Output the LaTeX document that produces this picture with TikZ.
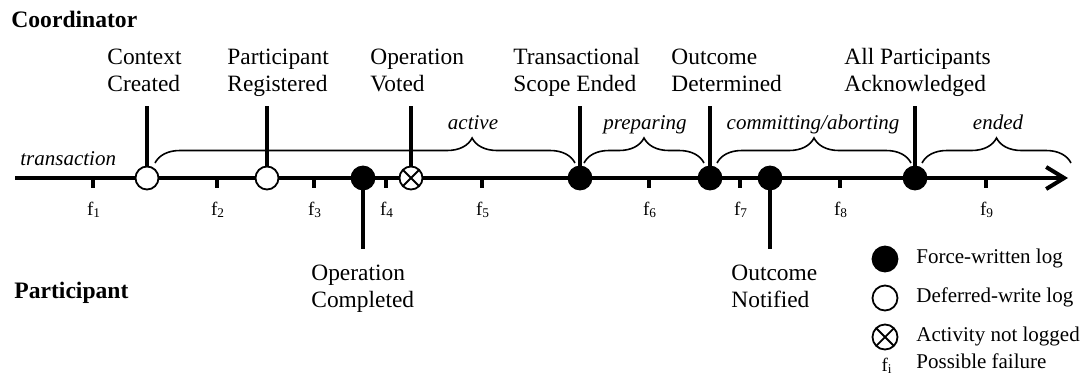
\documentclass[tikz,border=0pt]{standalone}
\usepackage{fontspec}
\setmainfont{Liberation Serif}
\usetikzlibrary{arrows.meta,decorations.pathreplacing}

\begin{document}
\begin{tikzpicture}[x=0.5pt,y=-0.5pt,
  % multi-line labels are anchored at the baseline of their last line
  lbl/.style={font=\fontsize{11.7}{13.4}\selectfont, align=left, anchor=base west, inner sep=0pt},
  role/.style={font=\fontsize{11.8}{14}\selectfont\bfseries, anchor=base west, inner sep=0pt},
  phase/.style={font=\fontsize{10.5}{12}\selectfont\itshape, anchor=base, inner sep=0pt},
  fail/.style={font=\fontsize{9.5}{11}\selectfont, anchor=base, inner sep=0pt},
  legtext/.style={font=\fontsize{10.5}{12}\selectfont, anchor=mid west, inner sep=0pt},
  evt/.style={circle, draw, line width=0.9pt, minimum size=11.5pt, inner sep=0pt},
  forced/.style={evt, fill=black},
  deferred/.style={evt, fill=white},
  unlogged/.style={evt, fill=white, path picture={
      \draw[line width=0.9pt]
        (path picture bounding box.north west) -- (path picture bounding box.south east)
        (path picture bounding box.north east) -- (path picture bounding box.south west);}},
  legsym/.style={minimum size=12.5pt},
  stem/.style={line width=1.65pt},
  timeline/.style={line width=2pt, -{Straight Barb[length=9pt,width=11pt]}},
  tickmark/.style={line width=1.7pt},
  phasebrace/.style={decorate, decoration={brace, amplitude=12.5pt, #1}, line width=0.8pt},
  phasebrace/.default={aspect=0.5},
]
\useasboundingbox (0,0) rectangle (1086,376);

% roles
\node[role] (coord) at (11,27) {Coordinator};
\node[role] (part) at (14,298) {Participant};

% time axis
\coordinate (ax0) at (15,178);
\coordinate (ax1) at (1068,178);
\draw[timeline] (ax0) -- (ax1);

% possible failure points
\foreach \i/\x in {1/93,2/217,3/314,4/386,5/482,6/649,7/740,8/840,9/986}{
  \coordinate (k\i) at (\x,178);
  \coordinate (kb\i) at (\x,188);
  \draw[tickmark] (k\i) -- (kb\i);
  \node[fail] (f\i) at (\x+1,215) {f\textsubscript{\i}};
}

% phase braces
\node[phase, anchor=base west] (ptx) at (20,165) {transaction};
\coordinate (b1a) at (155,163); \coordinate (b1b) at (575,163);
\coordinate (b2a) at (584,163); \coordinate (b2b) at (704,163);
\coordinate (b3a) at (717,163); \coordinate (b3b) at (911,163);
\coordinate (b4a) at (922,163); \coordinate (b4b) at (1071,163);
\draw[phasebrace={aspect=0.755}] (b1a) -- (b1b);
\draw[phasebrace] (b2a) -- (b2b);
\draw[phasebrace] (b3a) -- (b3b);
\draw[phasebrace] (b4a) -- (b4b);
\node[phase] (pact) at (473,129) {active};
\node[phase] (pprep) at (645,129) {preparing};
\node[phase] (pcomm) at (813,129) {committing/aborting};
\node[phase] (pend) at (998,129) {ended};

% stem ends
\coordinate (t1) at (147,106);
\coordinate (t2) at (267,106);
\coordinate (t3) at (363,249);
\coordinate (t4) at (411,106);
\coordinate (t5) at (580,106);
\coordinate (t6) at (710,106);
\coordinate (t7) at (770,249);
\coordinate (t8) at (915,106);

% event positions on the axis
\coordinate (p1) at (147,178);
\coordinate (p2) at (267,178);
\coordinate (p3) at (363,178);
\coordinate (p4) at (411,178);
\coordinate (p5) at (580,178);
\coordinate (p6) at (710,178);
\coordinate (p7) at (770,178);
\coordinate (p8) at (915,178);

\foreach \i in {1,...,8}{ \draw[stem] (p\i) -- (t\i); }

% events
\node[deferred] (e1) at (p1) {};
\node[deferred] (e2) at (p2) {};
\node[forced]   (e3) at (p3) {};
\node[unlogged] (e4) at (p4) {};
\node[forced]   (e5) at (p5) {};
\node[forced]   (e6) at (p6) {};
\node[forced]   (e7) at (p7) {};
\node[forced]   (e8) at (p8) {};

% event labels
\node[lbl] (l1) at (107,91) {Context\\Created};
\node[lbl] (l2) at (227,91) {Participant\\Registered};
\node[lbl] (l3) at (311,307) {Operation\\Completed};
\node[lbl] (l4) at (370,91) {Operation\\Voted};
\node[lbl] (l5) at (513,91) {Transactional\\Scope Ended};
\node[lbl] (l6) at (671,91) {Outcome\\Determined};
\node[lbl] (l7) at (731,307) {Outcome\\Notified};
\node[lbl] (l8) at (844,91) {All Participants\\Acknowledged};

% legend
\node[forced, legsym]   (g1) at (885,259) {};
\node[deferred, legsym] (g2) at (885,298) {};
\node[unlogged, legsym] (g3) at (885,337) {};
\node[fail] (g4) at (887,371) {f\textsubscript{i}};
\node[legtext] (h1) at (916,259) {Force-written log};
\node[legtext] (h2) at (916,298) {Deferred-write log};
\node[legtext] (h3) at (916,337) {Activity not logged};
\node[legtext] (h4) at (916,364) {Possible failure};
\end{tikzpicture}
\end{document}
